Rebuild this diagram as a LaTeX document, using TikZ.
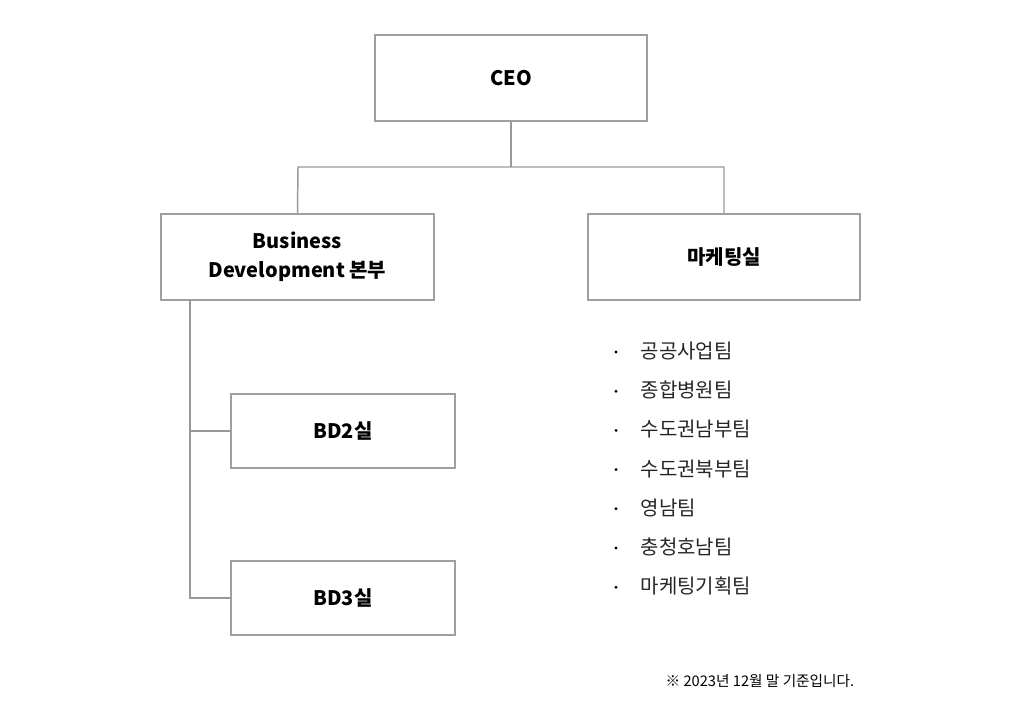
\documentclass[tikz,border=0pt]{standalone}
\usepackage{fontspec}
\setmainfont{Noto Sans CJK KR}
\begin{document}
\begin{tikzpicture}[x=0.75pt,y=-0.75pt,
  box/.style={draw=gray!75,line width=1.1pt,fill=white,font=\bfseries\fontsize{15}{22}\selectfont,align=center,inner sep=0pt},
  conn/.style={draw=gray!80,line width=1.1pt},
  item/.style={anchor=west,font=\fontsize{15}{18}\selectfont,text=black!85}]
\useasboundingbox (0,0) rectangle (1031,724);
\node[box,minimum width=272*0.75pt,minimum height=86*0.75pt] (ceo) at (511,78) {CEO};
\node[box,minimum width=273*0.75pt,minimum height=86*0.75pt] (bd) at (297.5,257) {Business\\Development 본부};
\node[box,minimum width=272*0.75pt,minimum height=86*0.75pt] (mk) at (724,257) {마케팅실};
\node[box,minimum width=224*0.75pt,minimum height=74*0.75pt] (bd2) at (343,431) {BD2실};
\node[box,minimum width=224*0.75pt,minimum height=74*0.75pt] (bd3) at (343,598) {BD3실};
\coordinate (j) at (511,167);
\draw[conn] (ceo.south) -- (j);
\draw[conn] (bd.north) -- (298,167) -- (724,167) -- (mk.north);
\coordinate (s) at (190,300);
\draw[conn] (s) -- (190,598) -- (bd3.west);
\draw[conn] (190,431) -- (bd2.west);
\foreach \t [count=\i] in {공공사업팀,종합병원팀,수도권남부팀,수도권북부팀,영남팀,충청호남팀,마케팅기획팀}{
  \node[item] (it\i) at (636,351+39.2*\i-39.2) {\t};
  \fill (616,352+39.2*\i-39.2) circle (1.6);
}
\node[anchor=east,font=\fontsize{11}{13}\selectfont] (note) at (859,681) {※ 2023년 12월 말 기준입니다.};
\end{tikzpicture}
\end{document}
